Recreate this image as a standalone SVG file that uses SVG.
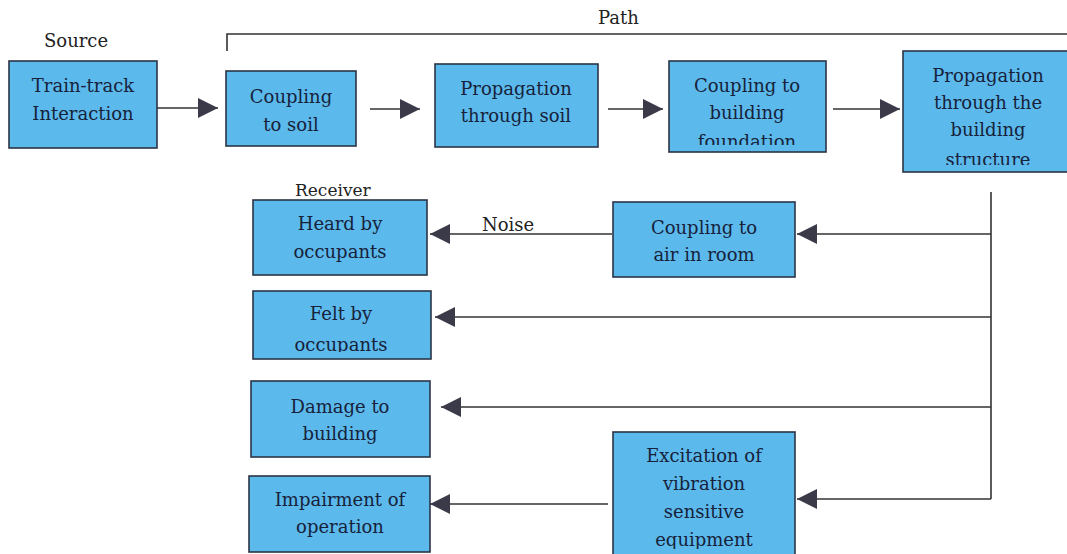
<svg xmlns="http://www.w3.org/2000/svg" width="1067" height="554" viewBox="0 0 1067 554">
<style>
.box{fill:#5cb9ec;stroke:#2b3445;stroke-width:1.6}
.t{font-family:"DejaVu Serif","Liberation Serif",serif;font-size:18px;fill:#16223a;text-anchor:middle}
.lbl{font-family:"DejaVu Serif","Liberation Serif",serif;font-size:18px;fill:#222}
.ln{stroke:#333;stroke-width:1.6;fill:none}
</style>
<defs>
<marker id="ah" viewBox="0 0 20 20" refX="20" refY="10" markerWidth="20" markerHeight="20" markerUnits="userSpaceOnUse" orient="auto">
<path d="M0,0 L20,10 L0,20 Z" fill="#3a3a48"/>
</marker>
<clipPath id="c4"><rect x="669" y="61" width="157" height="84"/></clipPath>
<clipPath id="c5"><rect x="903" y="51" width="164" height="114"/></clipPath>
<clipPath id="c8"><rect x="253" y="291" width="178" height="61"/></clipPath>
<clipPath id="c10"><rect x="613" y="432" width="182" height="117"/></clipPath>
</defs>
<rect width="1067" height="554" fill="#fff"/>
<text class="lbl" x="44" y="47">Source</text>
<text class="lbl" x="598" y="24">Path</text>
<text class="lbl" x="295" y="196" style="font-size:17px">Receiver</text>
<g id="connectors">
<path class="ln" d="M227,51 V34 H1067"/>
<path class="ln" d="M157,108 H218" marker-end="url(#ah)"/>
<path class="ln" d="M370,109 H420" marker-end="url(#ah)"/>
<path class="ln" d="M608,109 H663" marker-end="url(#ah)"/>
<path class="ln" d="M833,109 H900" marker-end="url(#ah)"/>
<path class="ln" d="M991,192 V499"/>
<path class="ln" d="M991,234 H797" marker-end="url(#ah)"/>
<path class="ln" d="M612,234 H430" marker-end="url(#ah)"/>
<text class="lbl" x="482" y="231">Noise</text>
<path class="ln" d="M991,317 H435" marker-end="url(#ah)"/>
<path class="ln" d="M991,407 H441" marker-end="url(#ah)"/>
<path class="ln" d="M991,499 H797" marker-end="url(#ah)"/>
<path class="ln" d="M608,504 H430" marker-end="url(#ah)"/>
</g>
<g id="n1"><rect class="box" x="9" y="61" width="148" height="87"/><text class="t" x="83" y="92">Train-track</text><text class="t" x="83" y="120">Interaction</text></g>
<g id="n2"><rect class="box" x="226" y="71" width="130" height="75"/><text class="t" x="291" y="103">Coupling</text><text class="t" x="291" y="131">to soil</text></g>
<g id="n3"><rect class="box" x="435" y="64" width="163" height="83"/><text class="t" x="516" y="95">Propagation</text><text class="t" x="516" y="122">through soil</text></g>
<g id="n4"><rect class="box" x="669" y="61" width="157" height="91"/><g clip-path="url(#c4)"><text class="t" x="747" y="92">Coupling to</text><text class="t" x="747" y="119">building</text><text class="t" x="747" y="148">foundation</text></g></g>
<g id="n5"><rect class="box" x="903" y="51" width="170" height="121"/><g clip-path="url(#c5)"><text class="t" x="988" y="82">Propagation</text><text class="t" x="988" y="109">through the</text><text class="t" x="988" y="136">building</text><text class="t" x="988" y="166">structure</text></g></g>
<g id="n6"><rect class="box" x="253" y="200" width="174" height="75"/><text class="t" x="340" y="230">Heard by</text><text class="t" x="340" y="258">occupants</text></g>
<g id="n7"><rect class="box" x="613" y="202" width="182" height="75"/><text class="t" x="704" y="234">Coupling to</text><text class="t" x="704" y="261">air in room</text></g>
<g id="n8"><rect class="box" x="253" y="291" width="178" height="68"/><g clip-path="url(#c8)"><text class="t" x="341" y="320">Felt by</text><text class="t" x="341" y="351">occupants</text></g></g>
<g id="n9"><rect class="box" x="251" y="381" width="179" height="76"/><text class="t" x="340" y="413">Damage to</text><text class="t" x="340" y="440">building</text></g>
<g id="n10"><rect class="box" x="613" y="432" width="182" height="130"/><g clip-path="url(#c10)"><text class="t" x="704" y="462">Excitation of</text><text class="t" x="704" y="490">vibration</text><text class="t" x="704" y="518">sensitive</text><text class="t" x="704" y="546">equipment</text></g></g>
<g id="n11"><rect class="box" x="249" y="476" width="181" height="76"/><text class="t" x="340" y="506">Impairment of</text><text class="t" x="340" y="533">operation</text></g>
</svg>
